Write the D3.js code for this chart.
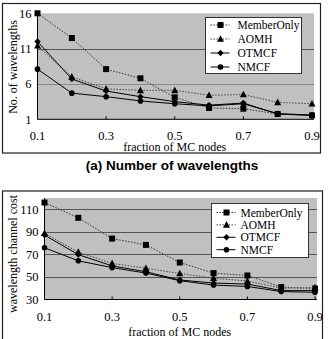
<!DOCTYPE html>
<html>
<head>
<meta charset="utf-8">
<script src="https://d3js.org/d3.v7.min.js"></script>
<style>
  body { margin: 0; background: #fff; }
  svg { display: block; }
  text { font-family: "Liberation Serif", "Times New Roman", serif; fill: #000; }
  .caption { font-family: "Liberation Sans", Arial, sans-serif; font-weight: bold; }
</style>
</head>
<body>
<svg width="329" height="339"></svg>
<script>
var svg = d3.select("svg");

// fractions of MC nodes (category axis)
var fractions = ["0.1", "0.2", "0.3", "0.4", "0.5", "0.6", "0.7", "0.8", "0.9"];
var xTickLabels = ["0.1", "0.3", "0.5", "0.7", "0.9"];
var seriesNames = ["MemberOnly", "AOMH", "OTMCF", "NMCF"];

// (a) number of wavelengths
var wlMemberOnly = [16, 12.5, 8.1, 6.8, 4.1, 2.6, 2.5, 1.75, 1.55];
var wlAOMH       = [11.4, 7.0, 5.3, 5.1, 5.1, 4.4, 4.5, 3.4, 3.2];
var wlOTMCF      = [12.0, 6.7, 5.0, 4.2, 3.5, 3.0, 3.3, 1.75, 1.55];
var wlNMCF       = [8.1, 4.7, 4.2, 3.6, 3.2, 2.9, 3.2, 1.8, 1.6];
var wlTicks = [1, 6, 11, 16];

// (b) wavelength channel cost
var costMemberOnly = [116, 102.4, 84, 78.4, 62.8, 53.4, 51.3, 41, 39.7];
var costAOMH       = [88.7, 72, 62, 57.7, 53.1, 48.8, 46.4, 40, 40.6];
var costOTMCF      = [87.1, 69.8, 59.8, 54.6, 47.3, 44.6, 43.7, 37.9, 37.9];
var costNMCF       = [75.9, 64.3, 58.3, 53.4, 46.7, 42.8, 41.6, 37, 36.4];
var costTicks = [30, 50, 70, 90, 110];

var dashes = { "MemberOnly": "1.5,1.5", "AOMH": "1.5,1.5", "OTMCF": null, "NMCF": null };
var lineColors = { "MemberOnly": "#333", "AOMH": "#444", "OTMCF": "#000", "NMCF": "#000" };

function marker (sel, name) {
    if (name === "MemberOnly") {
        sel.append("rect").attr("x", -3).attr("y", -3).attr("width", 6).attr("height", 6).attr("fill", "#000");
    } else if (name === "AOMH") {
        sel.append("path").attr("d", "M0,-3.8L3.5,2.8L-3.5,2.8Z").attr("fill", "#000");
    } else if (name === "OTMCF") {
        sel.append("path").attr("d", "M0,-3.2L3.2,0L0,3.2L-3.2,0Z").attr("fill", "#000");
    } else {
        sel.append("circle").attr("r", 2.8).attr("fill", "#000");
    }
}

function drawChart (cfg) {

    var g = svg.append("g");

    g.append("rect")
        .attr("x", cfg.frame[0]).attr("y", cfg.frame[1])
        .attr("width", cfg.frame[2]).attr("height", cfg.frame[3])
        .attr("fill", "none").attr("stroke", "#222").attr("stroke-width", 1.2);

    var x = d3.scalePoint().domain(fractions).range([cfg.left, cfg.right]).padding(0);
    var y = d3.scaleLinear().domain(cfg.domain).range([cfg.bottom, cfg.top]);

    g.append("rect")
        .attr("x", cfg.left).attr("y", cfg.top)
        .attr("width", cfg.right - cfg.left + 2).attr("height", cfg.bottom - cfg.top)
        .attr("fill", "#c0c0c0");

    // gridlines
    g.selectAll(".grid")
        .data(cfg.ticks.slice(1).filter(function(t) { return t < cfg.domain[1]; }))
        .enter().append("line")
        .attr("x1", cfg.left).attr("x2", cfg.right + 2)
        .attr("y1", function(d) { return Math.round(y(d)) + 0.5; })
        .attr("y2", function(d) { return Math.round(y(d)) + 0.5; })
        .attr("stroke", function(d) { return d === cfg.lightGrid ? "#888" : "#555"; })
        .attr("stroke-width", 1);

    // axes
    g.append("line")
        .attr("x1", cfg.left).attr("x2", cfg.left)
        .attr("y1", cfg.top).attr("y2", cfg.bottom)
        .attr("stroke", "#000");
    g.append("line")
        .attr("x1", cfg.left).attr("x2", cfg.right + 2)
        .attr("y1", cfg.bottom).attr("y2", cfg.bottom)
        .attr("stroke", "#000");

    g.selectAll(".xtick")
        .data(xTickLabels)
        .enter().append("line")
        .attr("x1", function(d) { return x(d); }).attr("x2", function(d) { return x(d); })
        .attr("y1", cfg.bottom).attr("y2", cfg.bottom - 3)
        .attr("stroke", "#000");

    g.selectAll(".xlab")
        .data(xTickLabels)
        .enter().append("text")
        .attr("x", function(d) { return x(d); })
        .attr("y", cfg.bottom + cfg.xLabDy)
        .attr("text-anchor", "middle")
        .style("font-size", "12.5px")
        .text(function(d) { return d; });

    g.selectAll(".ylab")
        .data(cfg.ticks)
        .enter().append("text")
        .attr("x", cfg.left - 6)
        .attr("y", function(d) { return y(d); })
        .attr("dy", "0.35em")
        .attr("text-anchor", "end")
        .style("font-size", "12.5px")
        .text(function(d) { return d; });

    g.append("text")
        .attr("x", (cfg.left + cfg.right) / 2)
        .attr("y", cfg.bottom + cfg.xTitleDy)
        .attr("text-anchor", "middle")
        .style("font-size", "12px")
        .text("fraction of MC nodes");

    g.append("text")
        .attr("transform", "translate(" + cfg.yTitleX + "," + cfg.yTitleY + ") rotate(-90)")
        .attr("text-anchor", "middle")
        .style("font-size", "12px")
        .text(cfg.yTitle);

    // series
    var line = d3.line()
        .x(function(d, i) { return x(fractions[i]); })
        .y(function(d) { return y(d); });

    seriesNames.forEach(function(name, k) {
        var vals = cfg.series[k];
        g.append("path")
            .attr("d", line(vals))
            .attr("fill", "none")
            .attr("stroke", lineColors[name])
            .attr("stroke-width", 1)
            .attr("stroke-dasharray", dashes[name]);
        vals.forEach(function(v, i) {
            var m = g.append("g").attr("transform", "translate(" + x(fractions[i]) + "," + y(v) + ")");
            marker(m, name);
        });
    });

    // legend
    var lg = g.append("g");
    lg.append("rect")
        .attr("x", cfg.legend[0]).attr("y", cfg.legend[1])
        .attr("width", cfg.legend[2]).attr("height", cfg.legend[3])
        .attr("fill", "#fff").attr("stroke", "#333");
    seriesNames.forEach(function(name, k) {
        var ry = cfg.legendRow0 + k * cfg.legendStep;
        lg.append("line")
            .attr("x1", cfg.legend[0] + 5).attr("x2", cfg.legend[0] + 24)
            .attr("y1", ry).attr("y2", ry)
            .attr("stroke", lineColors[name])
            .attr("stroke-dasharray", dashes[name]);
        var m = lg.append("g").attr("transform", "translate(" + (cfg.legend[0] + 15) + "," + ry + ")");
        marker(m, name);
        lg.append("text")
            .attr("x", cfg.legend[0] + cfg.legendTextDx)
            .attr("y", ry)
            .attr("dy", "0.35em")
            .style("font-size", cfg.legendFont)
            .text(name);
    });
}

drawChart({
    frame: [2.5, 3.5, 318, 149.5],
    left: 37.5, right: 312, top: 13.3, bottom: 119.3,
    domain: [1, 16], ticks: wlTicks, lightGrid: 6,
    xLabDy: 20.5, xTitleDy: 31.5,
    yTitle: "No. of wavelengths", yTitleX: 17, yTitleY: 67,
    series: [wlMemberOnly, wlAOMH, wlOTMCF, wlNMCF],
    legend: [205.5, 17.5, 96, 56], legendRow0: 25, legendStep: 14,
    legendTextDx: 32, legendFont: "11.5px"
});

drawChart({
    frame: [2.5, 191, 320, 160],
    left: 44.5, right: 315, top: 198, bottom: 299.5,
    domain: [30, 120], ticks: costTicks, lightGrid: null,
    xLabDy: 21, xTitleDy: 36,
    yTitle: "wavelength channel cost", yTitleX: 17, yTitleY: 254,
    series: [costMemberOnly, costAOMH, costOTMCF, costNMCF],
    legend: [211.5, 203.5, 97, 54], legendRow0: 212.5, legendStep: 12.4,
    legendTextDx: 29, legendFont: "11.5px"
});

svg.append("text")
    .attr("class", "caption")
    .attr("x", 172)
    .attr("y", 170)
    .attr("text-anchor", "middle")
    .style("font-size", "13.5px")
    .text("(a) Number of wavelengths");
</script>
</body>
</html>
